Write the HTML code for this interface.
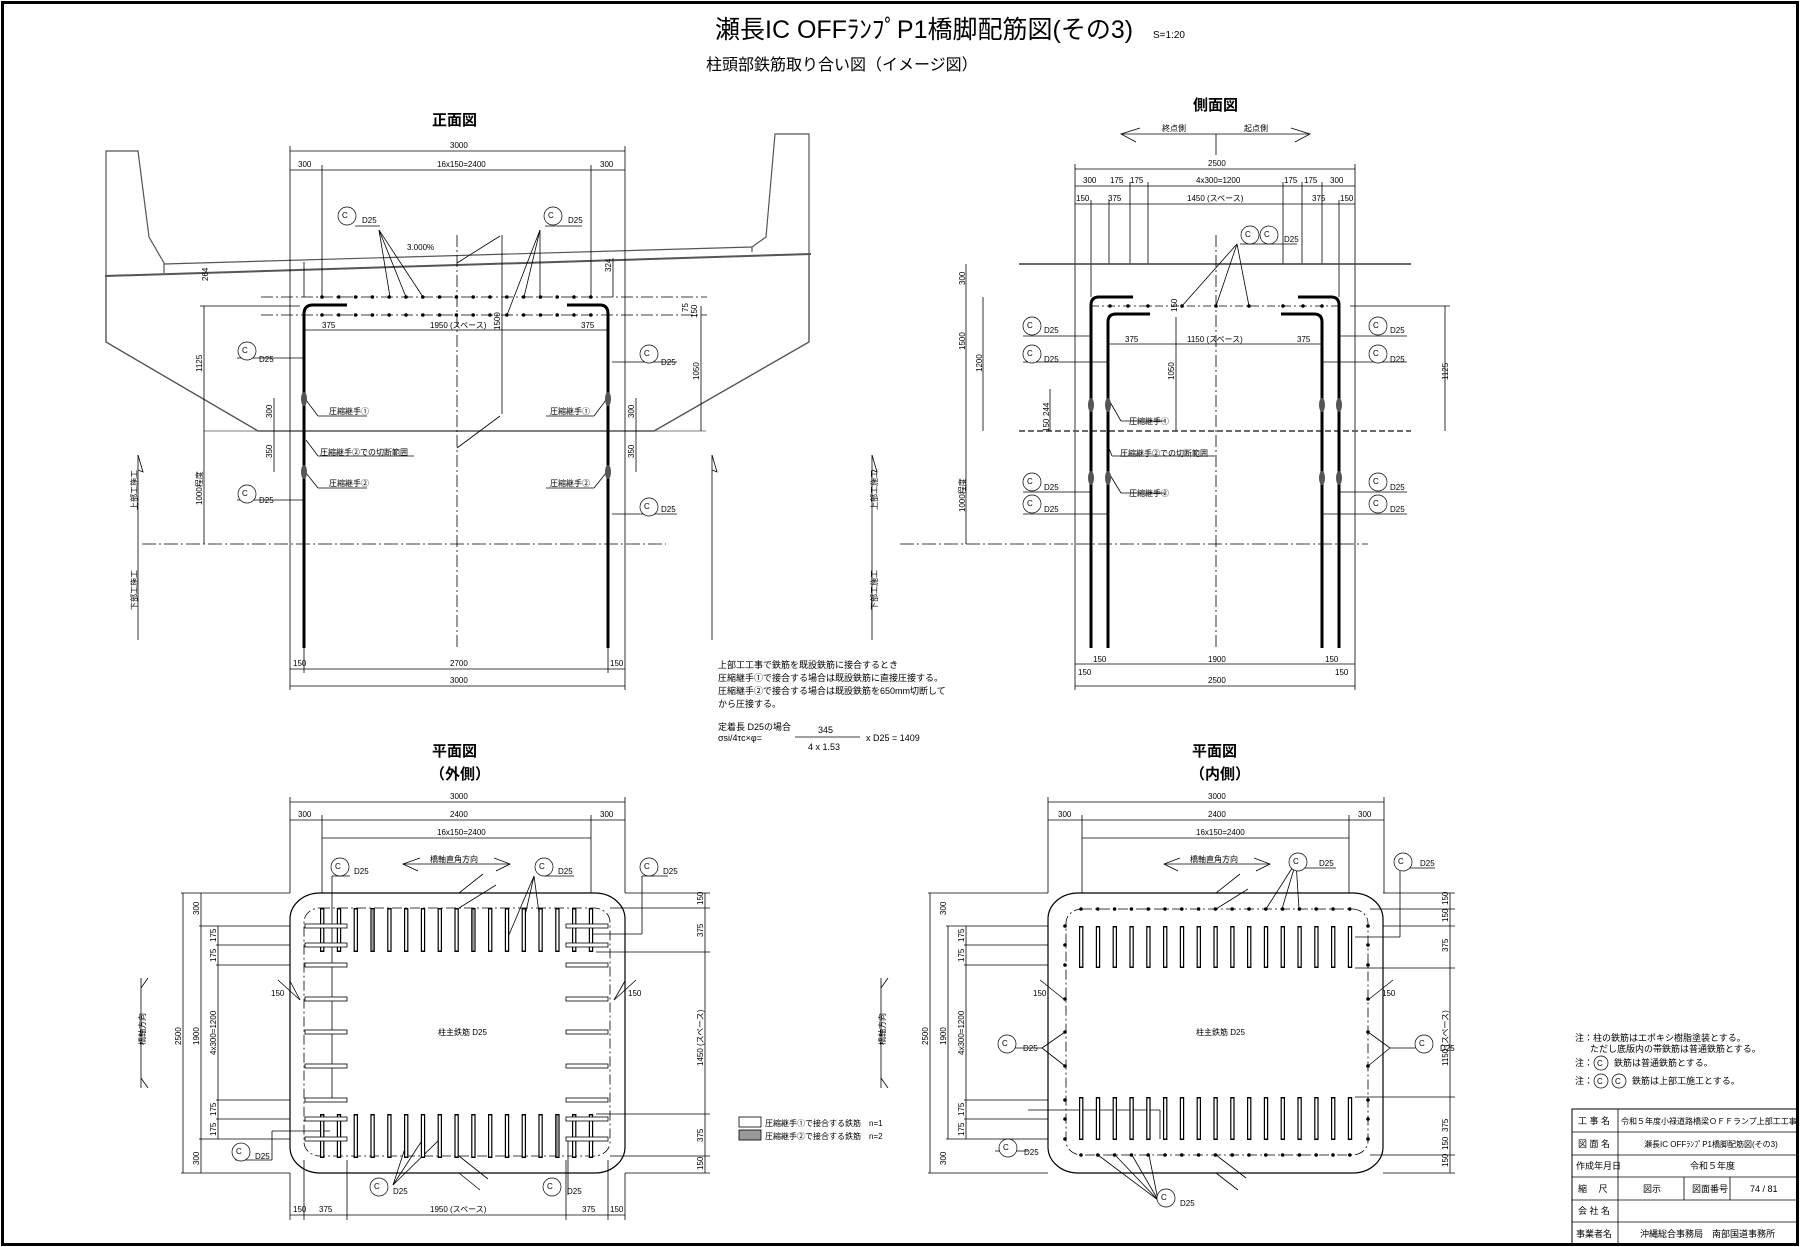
<!DOCTYPE html>
<html><head><meta charset="utf-8"><style>
html,body{margin:0;padding:0;background:#fff;}
svg{display:block;}
text{font-family:"Liberation Sans","Noto Sans CJK JP",sans-serif;fill:#000;}
.t8{font-size:8px;}
.t9{font-size:9px;}
.t10{font-size:10px;}
</style></head><body>
<svg width="1800" height="1247" viewBox="0 0 1800 1247" xmlns="http://www.w3.org/2000/svg">
<rect x="2.5" y="2.5" width="1795" height="1242" fill="#fff" stroke="#000" stroke-width="3"/>
<text x="715" y="38" style="font-size:25px">瀬長IC OFFﾗﾝﾌﾟP1橋脚配筋図(その3)</text>
<text x="1153" y="38" class="t10">S=1:20</text>
<text x="706" y="70" style="font-size:16px">柱頭部鉄筋取り合い図（イメージ図）</text>
<text x="432" y="125" style="font-size:15px;font-weight:bold">正面図</text>
<text x="1193" y="110" style="font-size:15px;font-weight:bold">側面図</text>
<text x="432" y="756" style="font-size:15px;font-weight:bold">平面図</text>
<text x="430" y="779" style="font-size:15px;font-weight:bold">（外側）</text>
<text x="1192" y="756" style="font-size:15px;font-weight:bold">平面図</text>
<text x="1190" y="779" style="font-size:15px;font-weight:bold">（内側）</text>

<g fill="none" stroke="#000" stroke-width="0.8">
<polyline points="106,276 106,151 138,151 149,237 164,263 164,273" stroke="#555" stroke-width="1.2"/>
<polyline points="809,254 809,134 775,134 766,237 752,247 752,252" stroke="#555" stroke-width="1.2"/>
<line x1="164" y1="264" x2="752" y2="247" stroke="#555" stroke-width="1.2"/>
<line x1="105" y1="276" x2="811" y2="254" stroke="#555" stroke-width="2"/>
<polyline points="106,276 106,342 258,431 654,431 809,342 809,254" stroke="#555" stroke-width="1.4"/>
<line x1="204" y1="431" x2="706" y2="431" stroke="#555"/>
<line x1="290" y1="151" x2="625" y2="151"/><line x1="290" y1="170" x2="625" y2="170"/>
<line x1="290" y1="146" x2="290" y2="648"/><line x1="625" y1="146" x2="625" y2="648"/>
<line x1="322" y1="165" x2="322" y2="297"/><line x1="591" y1="165" x2="591" y2="297"/>
<line x1="290" y1="669" x2="625" y2="669"/><line x1="290" y1="686" x2="625" y2="686"/>
<line x1="290" y1="648" x2="290" y2="690"/><line x1="625" y1="648" x2="625" y2="690"/>
<line x1="304" y1="648" x2="304" y2="673"/><line x1="608" y1="648" x2="608" y2="673"/>
<line x1="457" y1="235" x2="457" y2="648" stroke-dasharray="12 3 2 3"/>
<line x1="261" y1="297" x2="707" y2="297" stroke-dasharray="12 3 2 3"/>
<line x1="261" y1="315" x2="707" y2="315" stroke-dasharray="12 3 2 3"/>
<line x1="142" y1="544" x2="666" y2="544" stroke-dasharray="14 3 2 3"/>
<line x1="204" y1="306" x2="204" y2="544"/><line x1="200" y1="306" x2="300" y2="306"/>
<line x1="701" y1="306" x2="701" y2="431"/>
<line x1="274" y1="398" x2="274" y2="472"/><line x1="636" y1="398" x2="636" y2="472"/>
<line x1="304" y1="330" x2="608" y2="330"/>
<line x1="502" y1="235" x2="502" y2="414"/><line x1="457" y1="263" x2="500" y2="236"/><line x1="457" y1="448" x2="500" y2="416"/>
<line x1="304" y1="262" x2="304" y2="297"/><line x1="613" y1="258" x2="613" y2="297"/>
<path d="M347 305 L313 305 Q304 305 304 314 L304 648" stroke-width="3"/>
<path d="M567 305 L600 305 Q608 305 608 314 L608 648" stroke-width="3"/>
<line x1="379" y1="230" x2="390" y2="297"/><line x1="379" y1="230" x2="406" y2="297"/><line x1="379" y1="230" x2="423" y2="297"/><line x1="355" y1="226" x2="380" y2="226"/>
<line x1="540" y1="230" x2="507" y2="315"/><line x1="540" y1="230" x2="524" y2="297"/><line x1="540" y1="230" x2="540" y2="297"/><line x1="545" y1="226" x2="582" y2="226"/>
<line x1="237" y1="358" x2="304" y2="358"/><line x1="612" y1="362" x2="677" y2="362"/>
<line x1="237" y1="500" x2="304" y2="500"/><line x1="612" y1="514" x2="677" y2="514"/>
<line x1="306" y1="400" x2="318" y2="416"/><line x1="318" y1="416" x2="367" y2="416"/>
<line x1="606" y1="400" x2="594" y2="416"/><line x1="594" y1="416" x2="546" y2="416"/>
<line x1="306" y1="473" x2="318" y2="488"/><line x1="318" y1="488" x2="367" y2="488"/>
<line x1="606" y1="473" x2="594" y2="488"/><line x1="594" y1="488" x2="546" y2="488"/>
<line x1="306" y1="440" x2="318" y2="456"/><line x1="318" y1="456" x2="414" y2="456"/>
<line x1="138" y1="455" x2="138" y2="640"/><polyline points="138,455 143,472 138,470"/>
<line x1="712" y1="455" x2="712" y2="640"/><polyline points="712,455 717,472 712,470"/>

<line x1="1121" y1="134" x2="1310" y2="134"/><line x1="1216" y1="134" x2="1216" y2="155"/>
<polyline points="1140,128 1121,134 1136,142"/><polyline points="1291,128 1310,134 1295,142"/>
<line x1="1075" y1="169" x2="1355" y2="169"/><line x1="1075" y1="186" x2="1355" y2="186"/><line x1="1075" y1="204" x2="1355" y2="204"/>
<line x1="1075" y1="164" x2="1075" y2="690"/><line x1="1355" y1="164" x2="1355" y2="690"/>
<line x1="1091" y1="200" x2="1091" y2="297"/><line x1="1109" y1="200" x2="1109" y2="264"/><line x1="1130" y1="182" x2="1130" y2="264"/><line x1="1148" y1="182" x2="1148" y2="264"/>
<line x1="1283" y1="182" x2="1283" y2="264"/><line x1="1302" y1="182" x2="1302" y2="264"/><line x1="1322" y1="182" x2="1322" y2="264"/><line x1="1339" y1="200" x2="1339" y2="297"/>
<line x1="1019" y1="264" x2="1411" y2="264" stroke="#555" stroke-width="1.8"/>
<line x1="1019" y1="431" x2="1411" y2="431" stroke="#555" stroke-width="1.8" stroke-dasharray="6 3"/>
<line x1="900" y1="544" x2="1368" y2="544" stroke-dasharray="14 3 2 3"/>
<line x1="1216" y1="235" x2="1216" y2="648" stroke-dasharray="12 3 2 3"/>
<line x1="1091" y1="306" x2="1340" y2="306" stroke-dasharray="8 3 2 3"/>
<line x1="966" y1="264" x2="966" y2="544"/><line x1="983" y1="297" x2="983" y2="431"/>
<line x1="1445" y1="306" x2="1445" y2="431"/><line x1="1350" y1="306" x2="1450" y2="306"/>
<line x1="1176" y1="317" x2="1176" y2="431"/><line x1="1050" y1="389" x2="1050" y2="431"/>
<line x1="1108" y1="344" x2="1322" y2="344"/>
<path d="M1133 297 L1099 297 Q1091 297 1091 305 L1091 648" stroke-width="3"/>
<path d="M1298 297 L1331 297 Q1339 297 1339 305 L1339 648" stroke-width="3"/>
<path d="M1150 314 L1116 314 Q1108 314 1108 322 L1108 648" stroke-width="3"/>
<path d="M1281 314 L1314 314 Q1322 314 1322 322 L1322 648" stroke-width="3"/>
<line x1="1237" y1="244" x2="1182" y2="306"/><line x1="1237" y1="244" x2="1216" y2="306"/><line x1="1237" y1="244" x2="1249" y2="306"/><line x1="1240" y1="244" x2="1297" y2="244"/>
<line x1="1023" y1="336" x2="1091" y2="336"/><line x1="1023" y1="362" x2="1108" y2="362"/>
<line x1="1339" y1="336" x2="1407" y2="336"/><line x1="1322" y1="362" x2="1407" y2="362"/>
<line x1="1023" y1="492" x2="1091" y2="492"/><line x1="1023" y1="514" x2="1108" y2="514"/>
<line x1="1339" y1="492" x2="1407" y2="492"/><line x1="1322" y1="514" x2="1407" y2="514"/>
<line x1="1110" y1="402" x2="1121" y2="421"/><line x1="1121" y1="421" x2="1165" y2="421"/>
<line x1="1110" y1="475" x2="1121" y2="493"/><line x1="1121" y1="493" x2="1165" y2="493"/>
<line x1="1108" y1="446" x2="1112" y2="456"/><line x1="1112" y1="456" x2="1215" y2="456"/>
<line x1="1075" y1="664" x2="1355" y2="664"/><line x1="1075" y1="686" x2="1355" y2="686"/>
<line x1="872" y1="455" x2="872" y2="640"/><polyline points="872,455 877,472 872,470"/>

<line x1="290" y1="802" x2="625" y2="802"/><line x1="290" y1="820" x2="625" y2="820"/><line x1="322" y1="838" x2="591" y2="838"/>
<line x1="290" y1="797" x2="290" y2="893"/><line x1="625" y1="797" x2="625" y2="893"/>
<line x1="322" y1="815" x2="322" y2="893"/><line x1="591" y1="815" x2="591" y2="893"/>
<rect x="290" y="893" width="335" height="280" rx="30" ry="26" stroke-width="1.2"/>
<rect x="304" y="908" width="306" height="248" rx="16" ry="14" stroke-dasharray="10 3 2 3"/>
<line x1="181" y1="893" x2="290" y2="893"/><line x1="181" y1="1173" x2="290" y2="1173"/>
<line x1="183" y1="893" x2="183" y2="1173"/><line x1="201" y1="893" x2="201" y2="1173"/><line x1="218" y1="926" x2="218" y2="1139"/>
<line x1="199" y1="926" x2="290" y2="926"/><line x1="216" y1="945" x2="290" y2="945"/><line x1="216" y1="965" x2="290" y2="965"/>
<line x1="216" y1="1100" x2="290" y2="1100"/><line x1="216" y1="1119" x2="290" y2="1119"/><line x1="199" y1="1139" x2="290" y2="1139"/>
<line x1="625" y1="893" x2="710" y2="893"/><line x1="610" y1="908" x2="710" y2="908"/><line x1="596" y1="952" x2="710" y2="952"/><line x1="596" y1="1114" x2="710" y2="1114"/><line x1="610" y1="1156" x2="710" y2="1156"/><line x1="625" y1="1173" x2="710" y2="1173"/>
<line x1="705" y1="893" x2="705" y2="1173"/>
<line x1="290" y1="1215" x2="625" y2="1215"/><line x1="290" y1="1173" x2="290" y2="1220"/><line x1="625" y1="1173" x2="625" y2="1220"/>
<line x1="304" y1="1160" x2="304" y2="1220"/><line x1="347" y1="1160" x2="347" y2="1220"/><line x1="566" y1="1160" x2="566" y2="1220"/><line x1="608" y1="1160" x2="608" y2="1220"/>
<line x1="403" y1="864" x2="510" y2="864"/><polyline points="420,858 403,864 418,871"/><polyline points="494,858 510,864 496,871"/>
<line x1="141" y1="978" x2="141" y2="1088"/><polyline points="148,978 141,988"/><polyline points="148,1088 141,1078"/>
<line x1="350" y1="876" x2="332" y2="876"/><line x1="332" y1="876" x2="332" y2="1100"/>
<line x1="534" y1="876" x2="508" y2="937"/><line x1="534" y1="876" x2="524" y2="920"/><line x1="534" y1="876" x2="540" y2="920"/><line x1="545" y1="876" x2="574" y2="876"/>
<line x1="642" y1="876" x2="642" y2="934"/><line x1="642" y1="934" x2="590" y2="934"/><line x1="642" y1="876" x2="668" y2="876"/>
<line x1="272" y1="1160" x2="272" y2="1131"/><line x1="272" y1="1131" x2="330" y2="1131"/><line x1="235" y1="1160" x2="272" y2="1160"/>
<line x1="393" y1="1185" x2="408" y2="1139"/><line x1="393" y1="1185" x2="423" y2="1139"/><line x1="393" y1="1185" x2="440" y2="1139"/>
<line x1="568" y1="1195" x2="568" y2="1139"/>
<line x1="459" y1="893" x2="483" y2="874"/><line x1="459" y1="908" x2="496" y2="885"/>
<line x1="459" y1="1156" x2="488" y2="1179"/><line x1="459" y1="1173" x2="480" y2="1190"/>
<line x1="300" y1="1000" x2="278" y2="980"/><line x1="300" y1="1000" x2="290" y2="981"/>
<line x1="614" y1="1000" x2="636" y2="980"/><line x1="614" y1="1000" x2="625" y2="981"/>
<rect x="739" y="1117" width="22" height="10"/><rect x="739" y="1130" width="22" height="10" fill="#999"/>

<line x1="1048" y1="802" x2="1384" y2="802"/><line x1="1048" y1="820" x2="1384" y2="820"/><line x1="1082" y1="838" x2="1349" y2="838"/>
<line x1="1048" y1="797" x2="1048" y2="893"/><line x1="1384" y1="797" x2="1384" y2="893"/>
<line x1="1082" y1="815" x2="1082" y2="893"/><line x1="1349" y1="815" x2="1349" y2="893"/>
<rect x="1048" y="893" width="335" height="280" rx="30" ry="26" stroke-width="1.2"/>
<rect x="1066" y="909" width="302" height="246" rx="16" ry="14" stroke-dasharray="10 3 2 3"/>
<line x1="928" y1="893" x2="1048" y2="893"/><line x1="928" y1="1173" x2="1048" y2="1173"/>
<line x1="930" y1="893" x2="930" y2="1173"/><line x1="948" y1="926" x2="948" y2="1139"/><line x1="966" y1="926" x2="966" y2="1139"/>
<line x1="946" y1="926" x2="1048" y2="926"/><line x1="964" y1="945" x2="1048" y2="945"/><line x1="964" y1="965" x2="1048" y2="965"/>
<line x1="964" y1="1100" x2="1048" y2="1100"/><line x1="964" y1="1119" x2="1048" y2="1119"/><line x1="946" y1="1139" x2="1048" y2="1139"/>
<line x1="1383" y1="893" x2="1455" y2="893"/><line x1="1370" y1="909" x2="1455" y2="909"/><line x1="1383" y1="926" x2="1455" y2="926"/><line x1="1355" y1="968" x2="1455" y2="968"/><line x1="1355" y1="1097" x2="1455" y2="1097"/><line x1="1370" y1="1155" x2="1455" y2="1155"/><line x1="1383" y1="1173" x2="1455" y2="1173"/>
<line x1="1450" y1="893" x2="1450" y2="1173"/>
<line x1="1164" y1="864" x2="1270" y2="864"/><polyline points="1180,858 1164,864 1178,871"/><polyline points="1254,858 1270,864 1256,871"/>
<line x1="1296" y1="862" x2="1266" y2="909"/><line x1="1296" y1="862" x2="1282" y2="909"/><line x1="1296" y1="862" x2="1299" y2="909"/><line x1="1300" y1="868" x2="1336" y2="868"/>
<line x1="1400" y1="868" x2="1400" y2="937"/><line x1="1400" y1="937" x2="1355" y2="937"/><line x1="1398" y1="868" x2="1435" y2="868"/>
<line x1="1042" y1="1048" x2="1065" y2="1032"/><line x1="1042" y1="1048" x2="1065" y2="1066"/><line x1="1000" y1="1048" x2="1042" y2="1048"/>
<line x1="1390" y1="1048" x2="1368" y2="1032"/><line x1="1390" y1="1048" x2="1368" y2="1066"/><line x1="1390" y1="1048" x2="1430" y2="1048"/>
<line x1="1160" y1="1110" x2="1160" y2="1139"/><line x1="1028" y1="1110" x2="1160" y2="1110"/><line x1="995" y1="1151" x2="1028" y2="1151"/>
<line x1="1158" y1="1200" x2="1098" y2="1155"/><line x1="1158" y1="1200" x2="1115" y2="1155"/><line x1="1158" y1="1200" x2="1132" y2="1155"/><line x1="1158" y1="1200" x2="1149" y2="1155"/>
<line x1="1216" y1="893" x2="1240" y2="874"/><line x1="1216" y1="909" x2="1248" y2="889"/>
<line x1="1216" y1="1155" x2="1246" y2="1178"/><line x1="1216" y1="1173" x2="1238" y2="1190"/>
<line x1="1065" y1="1000" x2="1040" y2="980"/><line x1="1368" y1="1000" x2="1393" y2="980"/>
<line x1="881" y1="978" x2="881" y2="1088"/><polyline points="888,978 881,988"/><polyline points="888,1088 881,1078"/>

<rect x="1572" y="1109" width="225" height="135" stroke-width="1"/>
<line x1="1618" y1="1109" x2="1618" y2="1244"/>
<line x1="1572" y1="1132" x2="1797" y2="1132"/><line x1="1572" y1="1155" x2="1797" y2="1155"/><line x1="1572" y1="1177" x2="1797" y2="1177"/><line x1="1572" y1="1200" x2="1797" y2="1200"/><line x1="1572" y1="1222" x2="1797" y2="1222"/>
<line x1="1684" y1="1177" x2="1684" y2="1200"/><line x1="1730" y1="1177" x2="1730" y2="1200"/>
<line x1="795" y1="737" x2="860" y2="737"/>
</g>

<!-- repeated rebar (static) -->
<g fill="none" stroke="#000">
<!-- front dots -->
<line x1="322" y1="297" x2="592" y2="297" stroke-width="3.6" stroke-linecap="round" stroke-dasharray="0 16.8"/>
<line x1="322" y1="315" x2="592" y2="315" stroke-width="3.6" stroke-linecap="round" stroke-dasharray="0 16.8"/>
<!-- inner plan dots -->
<line x1="1081" y1="909" x2="1352" y2="909" stroke-width="3.6" stroke-linecap="round" stroke-dasharray="0 16.8"/>
<line x1="1081" y1="1155" x2="1352" y2="1155" stroke-width="3.6" stroke-linecap="round" stroke-dasharray="0 16.8"/>
<!-- outer plan bars -->
<line x1="320" y1="930" x2="596" y2="930" stroke-width="44" stroke-dasharray="4.4 12.4"/>
<line x1="321.2" y1="930" x2="596" y2="930" stroke="#fff" stroke-width="41" stroke-dasharray="2 14.8"/>
<line x1="320" y1="1136" x2="596" y2="1136" stroke-width="44" stroke-dasharray="4.4 12.4"/>
<line x1="321.2" y1="1136" x2="596" y2="1136" stroke="#fff" stroke-width="41" stroke-dasharray="2 14.8"/>
<!-- inner plan bars -->
<line x1="1079" y1="947" x2="1354" y2="947" stroke-width="42" stroke-dasharray="4.4 12.4"/>
<line x1="1080.2" y1="947" x2="1354" y2="947" stroke="#fff" stroke-width="39" stroke-dasharray="2 14.8"/>
<line x1="1079" y1="1118.5" x2="1354" y2="1118.5" stroke-width="43" stroke-dasharray="4.4 12.4"/>
<line x1="1080.2" y1="1118.5" x2="1354" y2="1118.5" stroke="#fff" stroke-width="40" stroke-dasharray="2 14.8"/>
</g>
<g fill="#999" stroke="#000" stroke-width="0.7">
<rect x="371" y="909" width="3" height="42"/><rect x="472" y="909" width="3" height="42"/><rect x="556" y="1115" width="3" height="42"/>
</g>
<g fill="#fff" stroke="#000" stroke-width="0.8">
<rect x="305" y="924" width="42" height="4"/><rect x="305" y="943" width="42" height="4"/><rect x="305" y="963" width="42" height="4"/><rect x="305" y="997" width="42" height="4"/><rect x="305" y="1030" width="42" height="4"/><rect x="305" y="1064" width="42" height="4"/><rect x="305" y="1098" width="42" height="4"/><rect x="305" y="1117" width="42" height="4"/><rect x="305" y="1137" width="42" height="4"/>
<rect x="566" y="924" width="42" height="4"/><rect x="566" y="943" width="42" height="4"/><rect x="566" y="963" width="42" height="4"/><rect x="566" y="997" width="42" height="4"/><rect x="566" y="1030" width="42" height="4"/><rect x="566" y="1064" width="42" height="4"/><rect x="566" y="1098" width="42" height="4"/><rect x="566" y="1117" width="42" height="4"/><rect x="566" y="1137" width="42" height="4"/>
</g>
<g fill="#000">
<circle cx="1110" cy="306" r="1.8"/><circle cx="1128" cy="306" r="1.8"/><circle cx="1148" cy="306" r="1.8"/><circle cx="1182" cy="306" r="1.8"/><circle cx="1216" cy="306" r="1.8"/><circle cx="1249" cy="306" r="1.8"/><circle cx="1283" cy="306" r="1.8"/><circle cx="1303" cy="306" r="1.8"/><circle cx="1322" cy="306" r="1.8"/>
<circle cx="1065" cy="926" r="1.8"/><circle cx="1065" cy="945" r="1.8"/><circle cx="1065" cy="965" r="1.8"/><circle cx="1065" cy="999" r="1.8"/><circle cx="1065" cy="1032" r="1.8"/><circle cx="1065" cy="1066" r="1.8"/><circle cx="1065" cy="1100" r="1.8"/><circle cx="1065" cy="1119" r="1.8"/><circle cx="1065" cy="1139" r="1.8"/>
<circle cx="1368" cy="926" r="1.8"/><circle cx="1368" cy="945" r="1.8"/><circle cx="1368" cy="965" r="1.8"/><circle cx="1368" cy="999" r="1.8"/><circle cx="1368" cy="1032" r="1.8"/><circle cx="1368" cy="1066" r="1.8"/><circle cx="1368" cy="1100" r="1.8"/><circle cx="1368" cy="1119" r="1.8"/><circle cx="1368" cy="1139" r="1.8"/>
</g>
<g fill="#555">
<ellipse cx="304" cy="399" rx="3" ry="7"/><ellipse cx="304" cy="472" rx="3" ry="7"/><ellipse cx="608" cy="399" rx="3" ry="7"/><ellipse cx="608" cy="472" rx="3" ry="7"/>
<ellipse cx="1091" cy="405" rx="3" ry="7"/><ellipse cx="1108" cy="405" rx="3" ry="7"/><ellipse cx="1322" cy="405" rx="3" ry="7"/><ellipse cx="1339" cy="405" rx="3" ry="7"/>
<ellipse cx="1091" cy="478" rx="3" ry="7"/><ellipse cx="1108" cy="478" rx="3" ry="7"/><ellipse cx="1322" cy="478" rx="3" ry="7"/><ellipse cx="1339" cy="478" rx="3" ry="7"/>
</g>

<g fill="#fff" stroke="#000" stroke-width="0.7">
<circle cx="347" cy="216" r="9"/><circle cx="553" cy="216" r="9"/>
<circle cx="247" cy="351" r="9"/><circle cx="649" cy="354" r="9"/><circle cx="247" cy="494" r="9"/><circle cx="649" cy="507" r="9"/>
<circle cx="1250" cy="235" r="9"/><circle cx="1269" cy="235" r="9"/>
<circle cx="1032" cy="326" r="9"/><circle cx="1032" cy="354" r="9"/><circle cx="1378" cy="326" r="9"/><circle cx="1378" cy="354" r="9"/>
<circle cx="1032" cy="482" r="9"/><circle cx="1032" cy="504" r="9"/><circle cx="1378" cy="482" r="9"/><circle cx="1378" cy="504" r="9"/>
<circle cx="340" cy="867" r="9"/><circle cx="544" cy="867" r="9"/><circle cx="649" cy="867" r="9"/>
<circle cx="241" cy="1152" r="9"/><circle cx="379" cy="1187" r="9"/><circle cx="552" cy="1187" r="9"/>
<circle cx="1298" cy="862" r="9"/><circle cx="1403" cy="862" r="9"/><circle cx="1007" cy="1044" r="9"/><circle cx="1424" cy="1044" r="9"/>
<circle cx="1008" cy="1148" r="9"/><circle cx="1166" cy="1198" r="9"/>
<circle cx="1601" cy="1063" r="7"/><circle cx="1601" cy="1081" r="7"/><circle cx="1619" cy="1081" r="7"/>
</g>
<g class="t8">
<text x="342" y="218">C</text><text x="548" y="218">C</text><text x="242" y="353">C</text><text x="644" y="356">C</text><text x="242" y="496">C</text><text x="644" y="509">C</text>
<text x="1245" y="237">C</text><text x="1264" y="237">C</text><text x="1027" y="328">C</text><text x="1027" y="356">C</text><text x="1373" y="328">C</text><text x="1373" y="356">C</text>
<text x="1027" y="484">C</text><text x="1027" y="506">C</text><text x="1373" y="484">C</text><text x="1373" y="506">C</text>
<text x="335" y="869">C</text><text x="539" y="869">C</text><text x="644" y="869">C</text><text x="236" y="1154">C</text><text x="374" y="1189">C</text><text x="547" y="1189">C</text>
<text x="1293" y="864">C</text><text x="1398" y="864">C</text><text x="1002" y="1046">C</text><text x="1419" y="1046">C</text><text x="1003" y="1150">C</text><text x="1161" y="1200">C</text>
<text x="1597" y="1066">C</text><text x="1597" y="1084">C</text><text x="1615" y="1084">C</text>
<text x="362" y="223">D25</text><text x="568" y="223">D25</text><text x="259" y="362">D25</text><text x="661" y="365">D25</text><text x="259" y="503">D25</text><text x="661" y="512">D25</text>
<text x="1284" y="242">D25</text><text x="1044" y="333">D25</text><text x="1044" y="362">D25</text><text x="1390" y="333">D25</text><text x="1390" y="362">D25</text>
<text x="1044" y="490">D25</text><text x="1044" y="512">D25</text><text x="1390" y="490">D25</text><text x="1390" y="512">D25</text>
<text x="354" y="874">D25</text><text x="558" y="874">D25</text><text x="663" y="874">D25</text><text x="255" y="1159">D25</text><text x="393" y="1194">D25</text><text x="567" y="1194">D25</text>
<text x="1319" y="866">D25</text><text x="1420" y="866">D25</text><text x="1023" y="1051">D25</text><text x="1440" y="1051">D25</text><text x="1024" y="1155">D25</text><text x="1180" y="1206">D25</text>
<text x="450" y="148">3000</text><text x="298" y="167">300</text><text x="437" y="167">16x150=2400</text><text x="600" y="167">300</text>
<text x="407" y="250">3.000%</text>
<text x="322" y="328">375</text><text x="430" y="328">1950 (スペース)</text><text x="581" y="328">375</text>
<text x="329" y="414">圧縮継手①</text><text x="550" y="414">圧縮継手①</text><text x="329" y="486">圧縮継手②</text><text x="550" y="486">圧縮継手②</text>
<text x="320" y="455">圧縮継手②での切断範囲</text>
<text x="293" y="666">150</text><text x="450" y="666">2700</text><text x="610" y="666">150</text><text x="450" y="683">3000</text>
<text transform="translate(202,372) rotate(-90)">1125</text><text transform="translate(202,505) rotate(-90)">1000程度</text>
<text transform="translate(272,418) rotate(-90)">300</text><text transform="translate(272,458) rotate(-90)">350</text>
<text transform="translate(634,418) rotate(-90)">300</text><text transform="translate(634,458) rotate(-90)">350</text>
<text transform="translate(699,380) rotate(-90)">1050</text><text transform="translate(500,330) rotate(-90)">1500</text>
<text transform="translate(208,281) rotate(-90)">264</text><text transform="translate(611,272) rotate(-90)">324</text>
<text transform="translate(688,312) rotate(-90)">75</text><text transform="translate(697,318) rotate(-90)">150</text>
<text transform="translate(137,510) rotate(-90)">上部工施工</text><text transform="translate(137,610) rotate(-90)">下部工施工</text>
<text transform="translate(877,510) rotate(-90)">上部工施工</text><text transform="translate(877,610) rotate(-90)">下部工施工</text>
<text x="1162" y="131">終点側</text><text x="1244" y="131">起点側</text>
<text x="1208" y="166">2500</text><text x="1083" y="183">300</text><text x="1110" y="183">175</text><text x="1130" y="183">175</text><text x="1196" y="183">4x300=1200</text><text x="1284" y="183">175</text><text x="1304" y="183">175</text><text x="1330" y="183">300</text>
<text x="1076" y="201">150</text><text x="1108" y="201">375</text><text x="1187" y="201">1450 (スペース)</text><text x="1312" y="201">375</text><text x="1340" y="201">150</text>
<text x="1125" y="342">375</text><text x="1187" y="342">1150 (スペース)</text><text x="1297" y="342">375</text>
<text x="1129" y="424">圧縮継手①</text><text x="1129" y="496">圧縮継手②</text><text x="1120" y="456">圧縮継手②での切断範囲</text>
<text x="1093" y="662">150</text><text x="1208" y="662">1900</text><text x="1325" y="662">150</text><text x="1078" y="675">150</text><text x="1335" y="675">150</text><text x="1208" y="683">2500</text>
<text transform="translate(965,350) rotate(-90)">1500</text><text transform="translate(982,372) rotate(-90)">1200</text><text transform="translate(965,285) rotate(-90)">300</text>
<text transform="translate(965,512) rotate(-90)">1000程度</text><text transform="translate(1448,380) rotate(-90)">1125</text>
<text transform="translate(1174,380) rotate(-90)">1050</text><text transform="translate(1177,312) rotate(-90)">150</text>
<text transform="translate(1049,416) rotate(-90)">244</text><text transform="translate(1049,432) rotate(-90)">150</text>
<text x="450" y="799">3000</text><text x="298" y="817">300</text><text x="450" y="817">2400</text><text x="600" y="817">300</text><text x="437" y="835">16x150=2400</text>
<text x="430" y="862">橋軸直角方向</text><text x="438" y="1035">柱主鉄筋 D25</text>
<text x="293" y="1212">150</text><text x="319" y="1212">375</text><text x="430" y="1212">1950 (スペース)</text><text x="582" y="1212">375</text><text x="610" y="1212">150</text>
<text x="271" y="996">150</text><text x="628" y="996">150</text>
<text transform="translate(181,1045) rotate(-90)">2500</text><text transform="translate(199,1045) rotate(-90)">1900</text><text transform="translate(216,1055) rotate(-90)">4x300=1200</text>
<text transform="translate(199,915) rotate(-90)">300</text><text transform="translate(199,1165) rotate(-90)">300</text>
<text transform="translate(216,942) rotate(-90)">175</text><text transform="translate(216,962) rotate(-90)">175</text><text transform="translate(216,1116) rotate(-90)">175</text><text transform="translate(216,1136) rotate(-90)">175</text>
<text transform="translate(703,905) rotate(-90)">150</text><text transform="translate(703,937) rotate(-90)">375</text><text transform="translate(703,1066) rotate(-90)">1450 (スペース)</text><text transform="translate(703,1142) rotate(-90)">375</text><text transform="translate(703,1170) rotate(-90)">150</text>
<text transform="translate(145,1045) rotate(-90)">橋軸方向</text>
<text x="765" y="1126">圧縮継手①で接合する鉄筋　n=1</text><text x="765" y="1139">圧縮継手②で接合する鉄筋　n=2</text>
<text x="1208" y="799">3000</text><text x="1058" y="817">300</text><text x="1208" y="817">2400</text><text x="1358" y="817">300</text><text x="1196" y="835">16x150=2400</text>
<text x="1190" y="862">橋軸直角方向</text><text x="1196" y="1035">柱主鉄筋 D25</text>
<text x="1033" y="996">150</text><text x="1382" y="996">150</text>
<text transform="translate(928,1045) rotate(-90)">2500</text><text transform="translate(946,1045) rotate(-90)">1900</text><text transform="translate(964,1055) rotate(-90)">4x300=1200</text>
<text transform="translate(946,915) rotate(-90)">300</text><text transform="translate(946,1165) rotate(-90)">300</text>
<text transform="translate(964,942) rotate(-90)">175</text><text transform="translate(964,962) rotate(-90)">175</text><text transform="translate(964,1116) rotate(-90)">175</text><text transform="translate(964,1136) rotate(-90)">175</text>
<text transform="translate(1448,905) rotate(-90)">150</text><text transform="translate(1448,922) rotate(-90)">150</text><text transform="translate(1448,952) rotate(-90)">375</text><text transform="translate(1448,1066) rotate(-90)">1150 (スペース)</text><text transform="translate(1448,1132) rotate(-90)">375</text><text transform="translate(1448,1167) rotate(-90)">150</text><text transform="translate(1448,1150) rotate(-90)">150</text>
<text transform="translate(885,1045) rotate(-90)">橋軸方向</text>
</g>
<g class="t9">
<text x="718" y="668">上部工工事で鉄筋を既設鉄筋に接合するとき</text>
<text x="718" y="681">圧縮継手①で接合する場合は既設鉄筋に直接圧接する。</text>
<text x="718" y="694">圧縮継手②で接合する場合は既設鉄筋を650mm切断して</text>
<text x="718" y="707">から圧接する。</text>
<text x="718" y="730">定着長 D25の場合</text>
<text x="718" y="741">σsi/4τc×φ=</text>
<text x="818" y="733">345</text><text x="808" y="750">4 x 1.53</text><text x="866" y="741">x D25 = 1409</text>
<text x="1575" y="1041">注：柱の鉄筋はエポキシ樹脂塗装とする。</text>
<text x="1590" y="1052">ただし底版内の帯鉄筋は普通鉄筋とする。</text>
<text x="1575" y="1066">注：</text><text x="1614" y="1066">鉄筋は普通鉄筋とする。</text>
<text x="1575" y="1084">注：</text><text x="1632" y="1084">鉄筋は上部工施工とする。</text>
<text x="1578" y="1124">工 事 名</text><text x="1621" y="1124" style="font-size:8px">令和５年度小禄道路橋梁ＯＦＦランプ上部工工事</text>
<text x="1578" y="1147">図 面 名</text><text x="1644" y="1147" style="font-size:8px">瀬長IC OFFﾗﾝﾌﾟP1橋脚配筋図(その3)</text>
<text x="1576" y="1169">作成年月日</text><text x="1690" y="1169">令和５年度</text>
<text x="1578" y="1192">縮　 尺</text><text x="1643" y="1192">図示</text><text x="1692" y="1192">図面番号</text><text x="1750" y="1192">74 / 81</text>
<text x="1578" y="1214">会 社 名</text>
<text x="1576" y="1237">事業者名</text><text x="1640" y="1237">沖縄総合事務局　南部国道事務所</text>
</g>
</svg>
</body></html>
